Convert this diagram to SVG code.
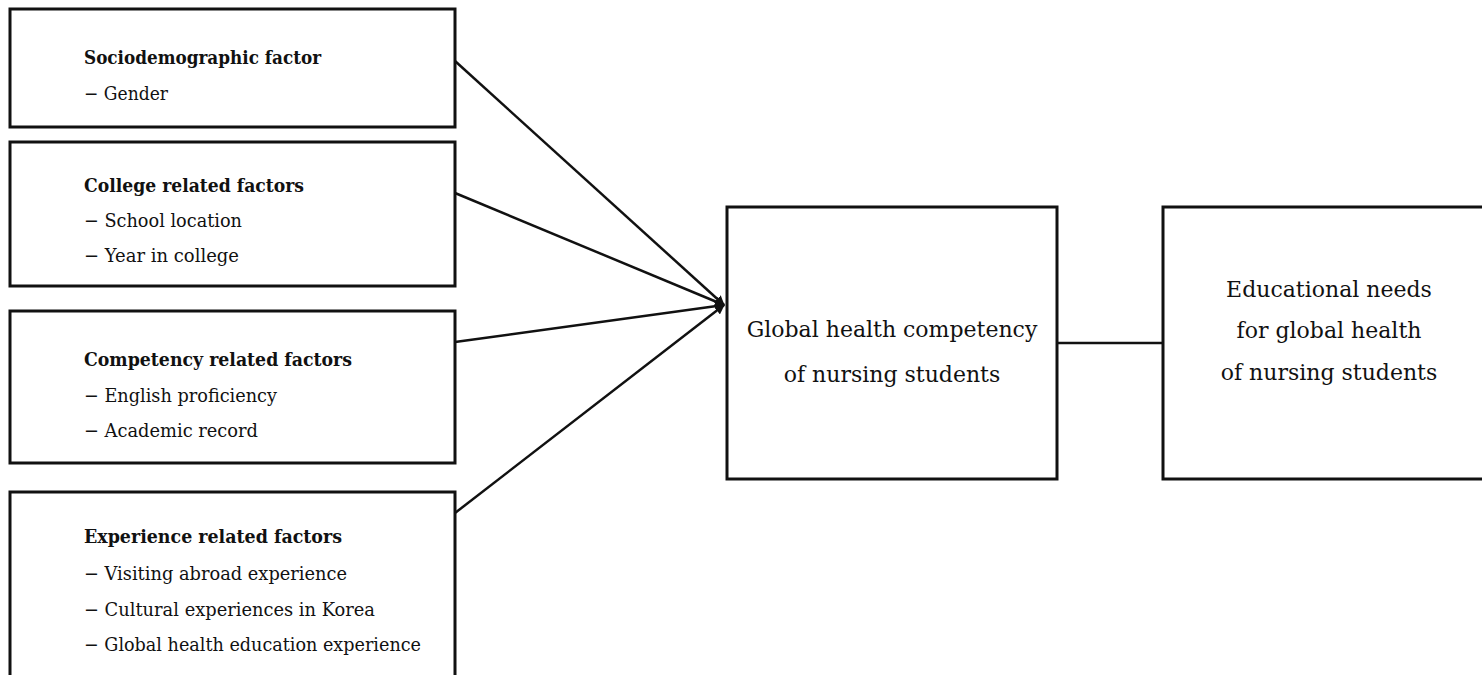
<svg xmlns="http://www.w3.org/2000/svg" width="1482" height="675" viewBox="0 0 1482 675">
<style>
.box{fill:#fff;stroke:#111;stroke-width:3}
.t{font-family:"DejaVu Serif","Liberation Serif",serif;fill:#111}
.h{font-size:19px;font-weight:bold}
.i{font-size:19px}
.c{font-size:22px;text-anchor:middle}
.ln{stroke:#111;stroke-width:2.5;fill:none}
</style>
<defs>
<marker id="ah" viewBox="0 0 10 10" refX="9" refY="5" markerWidth="4" markerHeight="4" orient="auto" markerUnits="strokeWidth">
<path d="M0,0 L10,5 L0,10 z" fill="#111"/>
</marker>
</defs>
<rect width="1482" height="675" fill="#fff"/>
<g id="connectors">
<line class="ln" x1="455" y1="61" x2="724" y2="305" marker-end="url(#ah)"/>
<line class="ln" x1="455" y1="193" x2="724" y2="305" marker-end="url(#ah)"/>
<line class="ln" x1="455" y1="342" x2="724" y2="305" marker-end="url(#ah)"/>
<line class="ln" x1="455" y1="513" x2="724" y2="305" marker-end="url(#ah)"/>
<line class="ln" x1="1057" y1="343" x2="1163" y2="343"/>
</g>
<g id="n1">
<rect class="box" x="10" y="9" width="445" height="118"/>
<text class="t h" x="84" y="64" textLength="237" lengthAdjust="spacingAndGlyphs">Sociodemographic factor</text>
<text class="t i" x="84" y="100" textLength="84" lengthAdjust="spacingAndGlyphs">− Gender</text>
</g>
<g id="n2">
<rect class="box" x="10" y="142" width="445" height="144"/>
<text class="t h" x="84" y="192" textLength="220" lengthAdjust="spacingAndGlyphs">College related factors</text>
<text class="t i" x="84" y="227" textLength="158" lengthAdjust="spacingAndGlyphs">− School location</text>
<text class="t i" x="84" y="262" textLength="155" lengthAdjust="spacingAndGlyphs">− Year in college</text>
</g>
<g id="n3">
<rect class="box" x="10" y="311" width="445" height="152"/>
<text class="t h" x="84" y="366" textLength="268" lengthAdjust="spacingAndGlyphs">Competency related factors</text>
<text class="t i" x="84" y="402" textLength="193" lengthAdjust="spacingAndGlyphs">− English proficiency</text>
<text class="t i" x="84" y="437" textLength="174" lengthAdjust="spacingAndGlyphs">− Academic record</text>
</g>
<g id="n4">
<rect class="box" x="10" y="492" width="445" height="200"/>
<text class="t h" x="84" y="543" textLength="258" lengthAdjust="spacingAndGlyphs">Experience related factors</text>
<text class="t i" x="84" y="580" textLength="263" lengthAdjust="spacingAndGlyphs">− Visiting abroad experience</text>
<text class="t i" x="84" y="616" textLength="291" lengthAdjust="spacingAndGlyphs">− Cultural experiences in Korea</text>
<text class="t i" x="84" y="651" textLength="337" lengthAdjust="spacingAndGlyphs">− Global health education experience</text>
</g>
<g id="n5">
<rect class="box" x="727" y="207" width="330" height="272"/>
<text class="t c" x="892" y="337">Global health competency</text>
<text class="t c" x="892" y="382">of nursing students</text>
</g>
<g id="n6">
<rect class="box" x="1163" y="207" width="340" height="272"/>
<text class="t c" x="1329" y="297">Educational needs</text>
<text class="t c" x="1329" y="338">for global health</text>
<text class="t c" x="1329" y="380">of nursing students</text>
</g>
</svg>
